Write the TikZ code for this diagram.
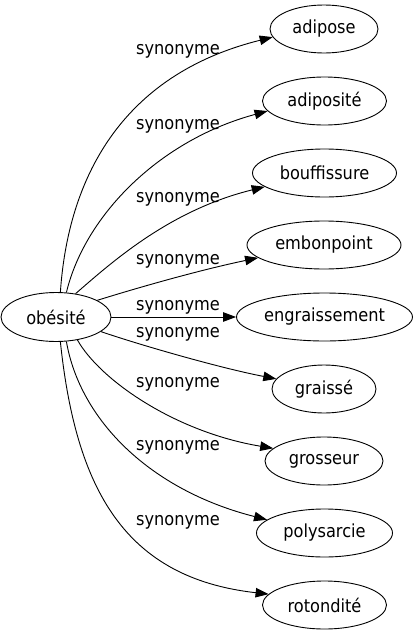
\documentclass[tikz,border=0pt]{standalone}
\usepackage{fontspec}
\setmainfont{DejaVu Sans Condensed}
\usetikzlibrary{shapes.geometric,arrows.meta}
\tikzset{
  word/.style={ellipse, draw=black, line width=0.9pt, inner sep=0pt, minimum height=48pt, font=\fontsize{18}{20}\selectfont},
  lbl/.style={anchor=base, inner sep=0pt, font=\fontsize{18}{20}\selectfont},
  edge/.style={draw=black, line width=0.9pt, -{Triangle[length=13pt,width=9.5pt]}}
}
\begin{document}
\begin{tikzpicture}[x=1pt,y=-1pt]
\path[use as bounding box, fill=white] (0,0) rectangle (418,635);
\node[word, minimum width=110pt, minimum height=49pt] (ob) at (56,317) {obésité};
\node[word, minimum width=108pt] (adipose) at (324,29) {adipose};
\node[word, minimum width=124pt] (adiposite) at (324.5,101) {adiposité};
\node[word, minimum width=144pt] (bouff) at (324.5,173) {bouffissure};
\node[word, minimum width=154pt] (embon) at (324,245) {embonpoint};
\node[word, minimum width=176pt] (engr) at (324.5,317) {engraissement};
\node[word, minimum width=104pt] (graisse) at (324,389) {graissé};
\node[word, minimum width=118pt] (gros) at (324,461) {grosseur};
\node[word, minimum width=136pt] (poly) at (324.5,533) {polysarcie};
\node[word, minimum width=124pt] (roto) at (324.5,605) {rotondité};
\node[lbl] (l1) at (178,54) {synonyme};
\node[lbl] (l2) at (178,129) {synonyme};
\node[lbl] (l3) at (178,202) {synonyme};
\node[lbl] (l4) at (178,264) {synonyme};
\node[lbl] (l5) at (178,310) {synonyme};
\node[lbl] (l6) at (178,337) {synonyme};
\node[lbl] (l7) at (178,387) {synonyme};
\node[lbl] (l8) at (178,450) {synonyme};
\node[lbl] (l9) at (178,525) {synonyme};
\path[edge] (ob.80) .. controls (68,180) and (120,75) .. (adipose.189);
\path[edge] (ob.67) .. controls (85,215) and (160,140) .. (adiposite.190);
\path[edge] (ob.50) .. controls (112,262) and (170,210) .. (bouff.193);
\path[edge] (ob.22) .. controls (140,287) and (200,270) .. (embon.191);
\path[edge] (ob.0) -- (engr.180);
\path[edge] (ob.-18) .. controls (140,345) and (220,368) .. (graisse.168);
\path[edge] (ob.-47) .. controls (100,380) and (175,432) .. (gros.166);
\path[edge] (ob.-67) .. controls (80,420) and (150,490) .. (poly.167);
\path[edge] (ob.-80) .. controls (76,490) and (125,578) .. (roto.169);
\end{tikzpicture}
\end{document}
